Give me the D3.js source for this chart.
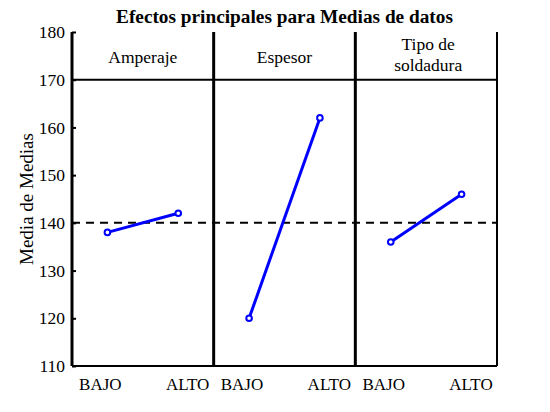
<!DOCTYPE html>
<html>
<head>
<meta charset="utf-8">
<script src="https://cdn.jsdelivr.net/npm/d3@7"></script>
<style>
  body { margin: 0; background: #fff; }
  text { font-family: "Liberation Serif", "Times New Roman", serif; fill: #000; }
</style>
</head>
<body>
<script>
// data
var factors = ["Amperaje", "Espesor", "Tipo de soldadura"];
var factorLabels = [["Amperaje"], ["Espesor"], ["Tipo de", "soldadura"]];
var levels = ["BAJO", "ALTO"];
var amperaje = [138, 142];
var espesor = [120, 162];
var tipoSoldadura = [136, 146];
var grandMean = 140;
var yTicks = [110, 120, 130, 140, 150, 160, 170, 180];

var series = [amperaje, espesor, tipoSoldadura];

var width = 550, height = 412,
    margin = {top: 32, right: 53, bottom: 46, left: 72};

var svg = d3.select("body").append("svg")
  .attr("width", width)
  .attr("height", height);

var x = d3.scaleBand()
  .domain(factors)
  .range([margin.left, width - margin.right])
  .padding(0);

// position of a level inside one panel
var lx = d3.scalePoint()
  .domain(levels)
  .range([0.25, 0.75]);

var y = d3.scaleLinear()
  .domain([110, 180])
  .range([height - margin.bottom, margin.top]);

var bw = x.bandwidth();

// title
svg.append("text")
  .attr("x", (margin.left + width - margin.right) / 2)
  .attr("y", 23)
  .attr("text-anchor", "middle")
  .style("font-weight", "bold")
  .style("font-size", "19.3px")
  .text("Efectos principales para Medias de datos");

// y axis label
svg.append("text")
  .attr("transform", "translate(33," + ((margin.top + height - margin.bottom) / 2) + ") rotate(-90)")
  .attr("text-anchor", "middle")
  .style("font-size", "19px")
  .text("Media de Medias");

// y axis, ticks pointing inward
var yAxis = d3.axisLeft(y).tickValues(yTicks).tickSizeInner(-4).tickSizeOuter(0).tickPadding(7);
var gy = svg.append("g")
  .attr("transform", "translate(" + margin.left + ",0)")
  .call(yAxis);
gy.select(".domain").remove();
gy.selectAll(".tick line").attr("stroke", "#000").attr("stroke-width", 2);
gy.selectAll(".tick text")
  .style("font-family", "'Liberation Serif', 'Times New Roman', serif")
  .style("font-size", "17.5px")
  .attr("fill", "#000");

// grand mean dashed line
svg.append("line")
  .attr("x1", margin.left).attr("x2", width - margin.right)
  .attr("y1", y(grandMean)).attr("y2", y(grandMean))
  .attr("stroke", "#000")
  .attr("stroke-width", 2)
  .attr("stroke-dasharray", "8,6");

// header separator at 170 and bottom line
svg.append("line")
  .attr("x1", margin.left).attr("x2", width - margin.right)
  .attr("y1", y(170)).attr("y2", y(170))
  .attr("stroke", "#000").attr("stroke-width", 2);
svg.append("line")
  .attr("x1", margin.left).attr("x2", width - margin.right)
  .attr("y1", y(110)).attr("y2", y(110))
  .attr("stroke", "#000").attr("stroke-width", 2);

// vertical panel borders
var edges = factors.map(function(f){ return x(f); }).concat([x(factors[factors.length - 1]) + bw]);
svg.selectAll(".edge")
  .data(edges)
  .enter().append("line")
  .attr("class", "edge")
  .attr("x1", function(d){ return d; }).attr("x2", function(d){ return d; })
  .attr("y1", y(180)).attr("y2", y(110))
  .attr("stroke", "#000")
  .attr("stroke-width", function(d, i){ return i === edges.length - 1 ? 2 : 3; });

// panels
factors.forEach(function(f, i) {
  var g = svg.append("g").attr("transform", "translate(" + x(f) + ",0)");
  var px = function(l){ return lx(l) * bw; };
  var vals = series[i];

  // header label
  var lines = factorLabels[i];
  var headY = lines.length === 1 ? [63] : [50, 71];
  lines.forEach(function(t, k) {
    g.append("text")
      .attr("x", bw / 2 + (lines.length > 1 ? 2 : 0))
      .attr("y", headY[k])
      .attr("text-anchor", "middle")
      .style("font-size", "17.5px")
      .text(t);
  });

  // level labels under panel
  g.append("text")
    .attr("x", bw * 0.05)
    .attr("y", 390)
    .attr("text-anchor", "start")
    .style("font-size", "17px")
    .text(levels[0]);
  g.append("text")
    .attr("x", bw * 0.97)
    .attr("y", 390)
    .attr("text-anchor", "end")
    .style("font-size", "17px")
    .text(levels[1]);

  var line = d3.line()
    .x(function(d, j){ return px(levels[j]); })
    .y(function(d){ return y(d); });

  g.append("path")
    .datum(vals)
    .attr("d", line)
    .attr("fill", "none")
    .attr("stroke", "#0000ff")
    .attr("stroke-width", 3);

  g.selectAll("circle")
    .data(vals)
    .enter().append("circle")
    .attr("cx", function(d, j){ return px(levels[j]); })
    .attr("cy", function(d){ return y(d); })
    .attr("r", 2.8)
    .attr("fill", "#fff")
    .attr("stroke", "#0000ff")
    .attr("stroke-width", 2);
});
</script>
</body>
</html>
